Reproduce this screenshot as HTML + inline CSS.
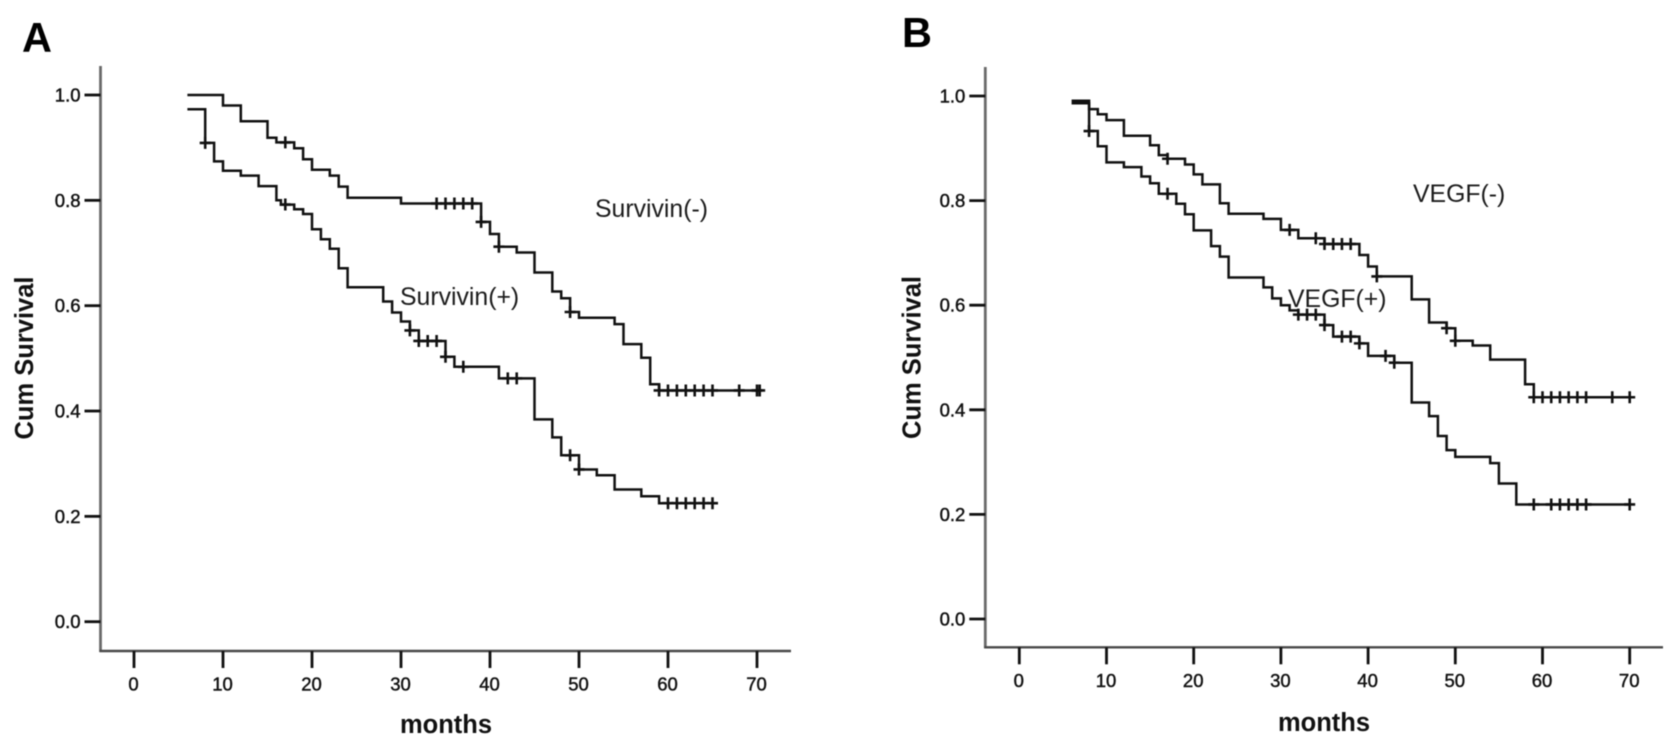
<!DOCTYPE html>
<html lang="en">
<head>
<meta charset="utf-8">
<title>Kaplan-Meier survival curves: Survivin and VEGF</title>
<style>
  html, body { margin: 0; padding: 0; background: #fff; }
  body { width: 1677px; height: 744px; overflow: hidden; }
  svg { display: block; filter: blur(0.5px); }
  text { font-family: "Liberation Sans", sans-serif; fill: #111; }
  .tick-label { font-size: 18.5px; stroke: #111; stroke-width: 0.45px; }
  .axis-title { font-size: 25.5px; font-weight: bold; }
  .series-label { font-size: 24.8px; fill: #1c1c1c; }
  .panel-letter { font-size: 41.5px; font-weight: bold; fill: #000; }
</style>
</head>
<body>
<svg id="figure" xmlns="http://www.w3.org/2000/svg" width="1677" height="744" viewBox="0 0 1677 744">
  <rect width="1677" height="744" fill="#ffffff"/>

  <g id="panel-a"></g>
  <g id="panel-b"></g>

  <text class="panel-letter" x="22" y="52">A</text>
  <text class="panel-letter" x="902" y="47">B</text>

  <text class="axis-title" text-anchor="middle" transform="translate(33,358) rotate(-90)">Cum Survival</text>
  <text class="axis-title" text-anchor="middle" transform="translate(920.5,357.5) rotate(-90)">Cum Survival</text>

  <text class="axis-title" text-anchor="middle" x="446" y="733">months</text>
  <text class="axis-title" text-anchor="middle" x="1324" y="731">months</text>

  <text class="series-label" x="595" y="217">Survivin(-)</text>
  <text class="series-label" x="400" y="305">Survivin(+)</text>
  <text class="series-label" x="1413" y="202">VEGF(-)</text>
  <text class="series-label" x="1288" y="307">VEGF(+)</text>
</svg>

<script>
// Axis tick labels
const xTickValues = [0, 10, 20, 30, 40, 50, 60, 70];
const yTickValues = [0, 0.2, 0.4, 0.6, 0.8, 1.0];

// Panel A, Survivin(-): start level, then event months and the level after each event
const survivinNegStart = [6, 1.0];
const survivinNegMonths = [10, 12, 15, 16, 18, 19, 20, 22, 23, 24, 30, 39, 40, 41, 43, 45, 47, 48, 49, 50, 54, 55, 57, 58, 59];
const survivinNegValues = [0.98, 0.95, 0.919, 0.91, 0.899, 0.878, 0.858, 0.847, 0.826, 0.805, 0.794, 0.759, 0.736, 0.712, 0.701, 0.663, 0.627, 0.614, 0.588, 0.577, 0.565, 0.527, 0.501, 0.451, 0.439];
const survivinNegCensored = [17, 34, 35, 36, 37, 38, 39, 41, 49, 59, 60, 61, 62, 63, 64, 65, 68, 70, 70.3];
const survivinNegEnd = 70.3;

// Panel A, Survivin(+)
const survivinPosStart = [6, 0.973];
const survivinPosMonths = [8, 9, 10, 12, 14, 16, 16.5, 18, 19, 20, 21, 22, 23, 24, 28, 29, 30, 31, 32, 35, 36, 41, 45, 47, 48, 50, 52, 54, 57, 59];
const survivinPosValues = [0.909, 0.874, 0.856, 0.847, 0.827, 0.8, 0.792, 0.783, 0.774, 0.745, 0.726, 0.708, 0.671, 0.635, 0.608, 0.587, 0.57, 0.553, 0.533, 0.503, 0.484, 0.462, 0.384, 0.35, 0.316, 0.289, 0.278, 0.251, 0.238, 0.225];
const survivinPosCensored = [8, 17, 31, 32, 33, 34, 35, 37, 42, 43, 49, 50, 60, 61, 62, 63, 64, 65];
const survivinPosEnd = 65;

// Panel B, VEGF(-)
const vegfNegStart = [6, 0.991];
const vegfNegMonths = [8, 9, 10, 12, 15, 16, 17, 19, 20, 21, 23, 24, 28, 30, 32, 35, 39, 40, 41, 45, 47, 49, 50, 52, 54, 58, 59];
const vegfNegValues = [0.975, 0.965, 0.954, 0.924, 0.906, 0.887, 0.88, 0.869, 0.85, 0.831, 0.795, 0.775, 0.765, 0.744, 0.728, 0.717, 0.696, 0.674, 0.655, 0.611, 0.567, 0.556, 0.532, 0.523, 0.496, 0.449, 0.424];
const vegfNegCensored = [17, 31, 34, 35, 36, 37, 38, 41, 49, 50, 59, 60, 61, 62, 63, 64, 65, 68, 70];
const vegfNegEnd = 70;

// Panel B, VEGF(+)
const vegfPosStart = [6, 0.986];
const vegfPosMonths = [8, 9, 10, 12, 14, 15, 16, 18, 19, 20, 22, 23, 24, 28, 29, 30, 31, 32, 35, 36, 39, 40, 43, 45, 47, 48, 49, 50, 54, 55, 57];
const vegfPosValues = [0.933, 0.904, 0.873, 0.864, 0.846, 0.833, 0.813, 0.794, 0.774, 0.743, 0.713, 0.693, 0.653, 0.634, 0.613, 0.6, 0.59, 0.582, 0.562, 0.54, 0.527, 0.503, 0.49, 0.414, 0.388, 0.35, 0.323, 0.31, 0.298, 0.259, 0.219];
const vegfPosCensored = [8, 17, 32, 33, 34, 35, 37, 38, 39, 42, 43, 59, 61, 62, 63, 64, 65, 70];
const vegfPosEnd = 70;

const SVG_NS = 'http://www.w3.org/2000/svg';

function makeAxisX(origin, perMonth) {
  return function (month) { return origin + perMonth * month; };
}

function makeAxisY(zeroPixel, perUnit) {
  return function (value) { return zeroPixel - perUnit * value; };
}

function levelAt(month, start, months, values) {
  let level = start[1];
  for (let i = 0; i < months.length; i++) {
    if (months[i] <= month) level = values[i];
  }
  return level;
}

function stepPath(start, months, values, end, xAxis, yAxis) {
  let d = 'M' + xAxis(start[0]).toFixed(1) + ' ' + yAxis(start[1]).toFixed(1);
  for (let i = 0; i < months.length; i++) {
    d += 'H' + xAxis(months[i]).toFixed(1);
    d += 'V' + yAxis(values[i]).toFixed(1);
  }
  d += 'H' + xAxis(end).toFixed(1);
  return d;
}

function addLine(parent, x1, y1, x2, y2, color, width) {
  const el = document.createElementNS(SVG_NS, 'line');
  el.setAttribute('x1', x1);
  el.setAttribute('y1', y1);
  el.setAttribute('x2', x2);
  el.setAttribute('y2', y2);
  el.setAttribute('stroke', color);
  el.setAttribute('stroke-width', width);
  parent.appendChild(el);
  return el;
}

function addTickText(parent, x, y, anchor, content) {
  const el = document.createElementNS(SVG_NS, 'text');
  el.setAttribute('class', 'tick-label');
  el.setAttribute('x', x);
  el.setAttribute('y', y);
  el.setAttribute('text-anchor', anchor);
  el.textContent = content;
  parent.appendChild(el);
  return el;
}

function drawAxes(group, frame, xAxis, yAxis) {
  const yLine = addLine(group, frame.left, frame.top, frame.left, frame.bottom + 1, '#6a6a6a', 2.8);
  
  

  const xLine = addLine(group, frame.left - 1, frame.bottom, frame.right, frame.bottom, '#4a4a4a', 2.4);
  
  

  xTickValues.forEach(function (tick) {
    const mark = addLine(group, xAxis(tick), frame.bottom, xAxis(tick), frame.bottom + 17, '#111111', 2.8);
    
    

    const label = addTickText(group, xAxis(tick) - 0.5, frame.bottom + 39.5, 'middle', String(tick));
    
    
  });

  yTickValues.forEach(function (tick) {
    const mark = addLine(group, frame.left - 16, yAxis(tick), frame.left, yAxis(tick), '#111111', 2.8);
    
    

    const label = addTickText(group, frame.left - 20, yAxis(tick) + 6.5, 'end', tick.toFixed(1));
    
    
  });
}

function drawSeries(group, seriesName, start, months, values, censored, end, xAxis, yAxis) {
  const curve = document.createElementNS(SVG_NS, 'path');
  curve.setAttribute('d', stepPath(start, months, values, end, xAxis, yAxis));
  curve.setAttribute('fill', 'none');
  curve.setAttribute('stroke', '#111111');
  curve.setAttribute('stroke-width', '2.5');
  
  
  group.appendChild(curve);

  censored.forEach(function (month) {
    const cx = xAxis(month);
    const cy = yAxis(levelAt(month, start, months, values));
    const mark = document.createElementNS(SVG_NS, 'path');
    mark.setAttribute('d', 'M' + (cx - 5.5) + ' ' + cy + 'H' + (cx + 5.5) + 'M' + cx + ' ' + (cy - 6) + 'V' + (cy + 6));
    mark.setAttribute('fill', 'none');
    mark.setAttribute('stroke', '#111111');
    mark.setAttribute('stroke-width', '2.6');
    
    
    group.appendChild(mark);
  });
}

const panelAGroup = document.getElementById('panel-a');
const panelBGroup = document.getElementById('panel-b');

const xAxisA = makeAxisX(134, 8.9);
const yAxisA = makeAxisY(621.7, 526.7);
const xAxisB = makeAxisX(1019.3, 8.72);
const yAxisB = makeAxisY(619, 523);

drawAxes(panelAGroup, { left: 100.5, top: 66, bottom: 651, right: 791 }, xAxisA, yAxisA);
drawAxes(panelBGroup, { left: 985.3, top: 67, bottom: 647.3, right: 1663 }, xAxisB, yAxisB);

drawSeries(panelAGroup, 'survivin-negative', survivinNegStart, survivinNegMonths, survivinNegValues, survivinNegCensored, survivinNegEnd, xAxisA, yAxisA);
drawSeries(panelAGroup, 'survivin-positive', survivinPosStart, survivinPosMonths, survivinPosValues, survivinPosCensored, survivinPosEnd, xAxisA, yAxisA);
drawSeries(panelBGroup, 'vegf-negative', vegfNegStart, vegfNegMonths, vegfNegValues, vegfNegCensored, vegfNegEnd, xAxisB, yAxisB);
drawSeries(panelBGroup, 'vegf-positive', vegfPosStart, vegfPosMonths, vegfPosValues, vegfPosCensored, vegfPosEnd, xAxisB, yAxisB);
</script>
</body>
</html>
